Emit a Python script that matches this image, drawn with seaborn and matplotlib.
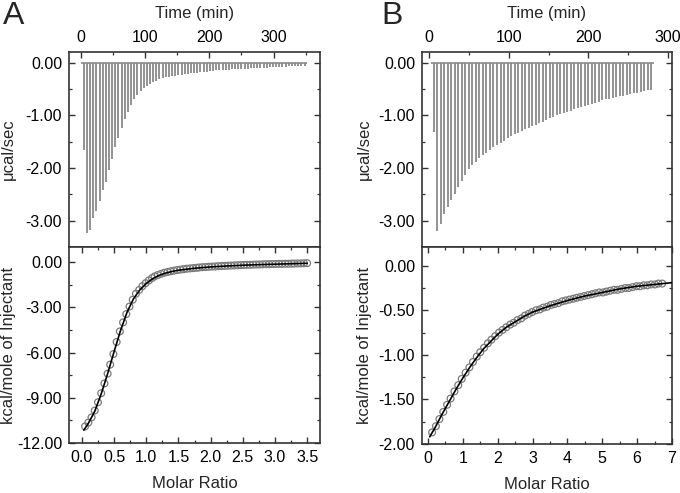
import matplotlib
matplotlib.use("Agg")
import numpy as np
import pandas as pd
import seaborn as sns
import matplotlib.pyplot as plt
from matplotlib.ticker import MultipleLocator, FormatStrFormatter

# ---- panel A: raw injections (time in min, peak in ucal/sec) ----
times_a = [5.0, 9.9, 14.8, 19.7, 24.6, 29.5, 34.4, 39.3, 44.2, 49.1,
           54.0, 58.9, 63.8, 68.7, 73.6, 78.5, 83.4, 88.3, 93.2, 98.1,
           103.0, 107.9, 112.8, 117.7, 122.6, 127.5, 132.4, 137.3, 142.2, 147.1,
           152.0, 156.9, 161.8, 166.7, 171.6, 176.5, 181.4, 186.3, 191.2, 196.1,
           201.0, 205.9, 210.8, 215.7, 220.6, 225.5, 230.4, 235.3, 240.2, 245.1,
           250.0, 254.9, 259.8, 264.7, 269.6, 274.5, 279.4, 284.3, 289.2, 294.1,
           299.0, 303.9, 308.8, 313.7, 318.6, 323.5, 328.4, 333.3, 338.2, 343.1,
           348.0]
peaks_a = [-1.66, -3.23, -3.17, -2.95, -2.81, -2.62, -2.42, -2.26, -2.04, -1.83,
           -1.60, -1.44, -1.24, -1.08, -0.94, -0.81, -0.70, -0.61, -0.54, -0.48,
           -0.44, -0.41, -0.37, -0.35, -0.32, -0.30, -0.28, -0.27, -0.26, -0.25,
           -0.24, -0.23, -0.22, -0.21, -0.20, -0.19, -0.19, -0.18, -0.17, -0.17,
           -0.16, -0.16, -0.15, -0.15, -0.14, -0.14, -0.14, -0.13, -0.13, -0.13,
           -0.12, -0.12, -0.12, -0.11, -0.11, -0.11, -0.10, -0.10, -0.10, -0.09,
           -0.09, -0.09, -0.08, -0.08, -0.08, -0.07, -0.07, -0.07, -0.06, -0.06,
           -0.06]

# ---- panel A: integrated heats (kcal/mole of injectant) ----
molar_a = [0.05, 0.10, 0.15, 0.20, 0.25, 0.30, 0.35, 0.40, 0.44, 0.49,
           0.54, 0.59, 0.64, 0.69, 0.74, 0.79, 0.84, 0.89, 0.94, 0.99,
           1.04, 1.09, 1.13, 1.18, 1.23, 1.28, 1.33, 1.38, 1.43, 1.48,
           1.53, 1.58, 1.63, 1.68, 1.73, 1.78, 1.82, 1.87, 1.92, 1.97,
           2.02, 2.07, 2.12, 2.17, 2.22, 2.27, 2.32, 2.37, 2.42, 2.47,
           2.52, 2.56, 2.61, 2.66, 2.71, 2.76, 2.81, 2.86, 2.91, 2.96,
           3.01, 3.06, 3.11, 3.16, 3.21, 3.26, 3.30, 3.35, 3.40, 3.45,
           3.50]
heat_a = [-10.90, -10.65, -10.30, -9.85, -9.30, -8.70, -8.05, -7.40, -6.80, -6.10,
          -5.30, -4.60, -4.00, -3.45, -2.95, -2.50, -2.10, -1.85, -1.60, -1.40,
          -1.22, -1.06, -0.95, -0.86, -0.78, -0.71, -0.66, -0.61, -0.57, -0.53,
          -0.50, -0.47, -0.44, -0.42, -0.40, -0.38, -0.36, -0.34, -0.33, -0.31,
          -0.30, -0.29, -0.27, -0.26, -0.25, -0.24, -0.23, -0.22, -0.21, -0.20,
          -0.19, -0.18, -0.18, -0.17, -0.16, -0.16, -0.15, -0.14, -0.14, -0.13,
          -0.13, -0.12, -0.12, -0.11, -0.11, -0.10, -0.10, -0.09, -0.09, -0.08,
          -0.07]
fit_a_x = [0.03, 0.10, 0.20, 0.30, 0.40, 0.50, 0.60, 0.70, 0.80, 0.90, 1.00, 1.10,
           1.20, 1.30, 1.40, 1.50, 1.75, 2.00, 2.25, 2.50, 2.75, 3.00, 3.25, 3.50]
fit_a_y = [-11.15, -10.70, -9.90, -8.75, -7.40, -5.95, -4.55, -3.35, -2.45, -1.85, -1.42, -1.10,
           -0.88, -0.73, -0.62, -0.54, -0.41, -0.32, -0.26, -0.21, -0.17, -0.14, -0.11, -0.08]

# ---- panel B: raw injections ----
times_b = [6.0, 10.4, 14.8, 19.2, 23.6, 28.0, 32.4, 36.8, 41.2, 45.6,
           50.0, 54.4, 58.8, 63.2, 67.6, 72.0, 76.4, 80.8, 85.2, 89.6,
           94.0, 98.4, 102.8, 107.2, 111.6, 116.0, 120.4, 124.8, 129.2, 133.6,
           138.0, 142.4, 146.8, 151.2, 155.6, 160.0, 164.4, 168.8, 173.2, 177.6,
           182.0, 186.4, 190.8, 195.2, 199.6, 204.0, 208.4, 212.8, 217.2, 221.6,
           226.0, 230.4, 234.8, 239.2, 243.6, 248.0, 252.4, 256.8, 261.2, 265.6,
           270.0, 274.4, 278.8]
peaks_b = [-1.31, -3.19, -3.06, -2.88, -2.74, -2.61, -2.49, -2.37, -2.25, -2.13,
           -2.02, -1.95, -1.88, -1.82, -1.76, -1.71, -1.66, -1.61, -1.56, -1.52,
           -1.48, -1.44, -1.40, -1.36, -1.33, -1.30, -1.27, -1.24, -1.21, -1.18,
           -1.15, -1.12, -1.09, -1.06, -1.03, -1.00, -0.98, -0.95, -0.93, -0.91,
           -0.88, -0.86, -0.84, -0.82, -0.80, -0.78, -0.76, -0.74, -0.72, -0.70,
           -0.69, -0.67, -0.66, -0.64, -0.63, -0.61, -0.60, -0.58, -0.57, -0.56,
           -0.54, -0.53, -0.52]

# ---- panel B: integrated heats ----
molar_b = [0.12, 0.23, 0.33, 0.44, 0.55, 0.65, 0.76, 0.87, 0.97, 1.08,
           1.19, 1.29, 1.40, 1.50, 1.61, 1.72, 1.82, 1.93, 2.04, 2.14,
           2.25, 2.36, 2.46, 2.57, 2.68, 2.78, 2.89, 2.99, 3.10, 3.21,
           3.31, 3.42, 3.53, 3.63, 3.74, 3.85, 3.95, 4.06, 4.17, 4.27,
           4.38, 4.48, 4.59, 4.70, 4.80, 4.91, 5.02, 5.12, 5.23, 5.34,
           5.44, 5.55, 5.66, 5.76, 5.87, 5.98, 6.08, 6.19, 6.29, 6.40,
           6.51, 6.61, 6.72]
heat_b = [-1.87, -1.80, -1.72, -1.64, -1.56, -1.49, -1.41, -1.34, -1.27, -1.20,
          -1.14, -1.08, -1.02, -0.97, -0.92, -0.87, -0.83, -0.79, -0.75, -0.72,
          -0.69, -0.66, -0.64, -0.61, -0.59, -0.56, -0.54, -0.52, -0.50, -0.49,
          -0.47, -0.46, -0.44, -0.43, -0.42, -0.40, -0.39, -0.38, -0.37, -0.36,
          -0.35, -0.34, -0.33, -0.32, -0.31, -0.30, -0.30, -0.29, -0.28, -0.27,
          -0.27, -0.26, -0.25, -0.25, -0.24, -0.23, -0.23, -0.22, -0.22, -0.21,
          -0.21, -0.20, -0.20]
fit_b_x = [0.05, 0.2, 0.4, 0.6, 0.8, 1.0, 1.2, 1.4, 1.6, 1.8, 2.0, 2.25,
           2.5, 2.75, 3.0, 3.5, 4.0, 4.5, 5.0, 5.5, 6.0, 6.5, 7.0]
fit_b_y = [-1.92, -1.82, -1.67, -1.53, -1.39, -1.26, -1.14, -1.03, -0.93, -0.85, -0.77, -0.69,
           -0.63, -0.57, -0.52, -0.45, -0.39, -0.34, -0.30, -0.26, -0.23, -0.21, -0.19]

sns.set_style("ticks")
plt.rcParams['font.family'] = ['Liberation Sans', 'DejaVu Sans']
plt.rcParams['axes.edgecolor'] = '#333333'
plt.rcParams['axes.linewidth'] = 1.2

fig = plt.figure(figsize=(6.8, 4.93), dpi=100)
W, H = 680.0, 493.0
tick_fs = 11.5
label_fs = 12


def make_axes(left, right, top, mid, bottom):
    ax_top = fig.add_axes([left / W, 1 - mid / H, (right - left) / W, (mid - top) / H])
    ax_bot = fig.add_axes([left / W, 1 - bottom / H, (right - left) / W, (bottom - mid) / H])
    return ax_top, ax_bot


def style_ticks(ax):
    ax.tick_params(which='both', direction='in', colors='#333333', labelcolor='black',
                   labelsize=tick_fs, left=True, right=True, pad=5)
    ax.tick_params(which='major', length=4, width=1.0)
    ax.tick_params(which='minor', length=2.5, width=0.9)


def raw_panel(ax, times, peaks, xlim):
    ax.hlines(0, times[0] - 4, times[-1] + 4, color='#8a8a8a', lw=1.2)
    ax.vlines(times, peaks, 0, color='#8a8a8a', lw=1.3)
    ax.set_xlim(*xlim)
    ax.set_ylim(-3.5, 0.2)
    ax.xaxis.tick_top()
    ax.xaxis.set_label_position('top')
    ax.xaxis.set_major_locator(MultipleLocator(100))
    ax.xaxis.set_minor_locator(MultipleLocator(50))
    ax.yaxis.set_major_locator(MultipleLocator(1))
    ax.yaxis.set_minor_locator(MultipleLocator(0.5))
    ax.yaxis.set_major_formatter(FormatStrFormatter('%.2f'))
    style_ticks(ax)
    ax.tick_params(which='both', top=True, bottom=False, labeltop=True, labelbottom=False)
    ax.set_xlabel('Time (min)', fontsize=label_fs)
    ax.xaxis.set_label_coords(0.5, 1.175)
    ax.set_ylabel('μcal/sec', fontsize=label_fs)


def heat_panel(ax, molar, heat, fx, fy, xlim, ylim, xmaj, xmin, ymaj, ymin):
    sns.lineplot(x=fx, y=fy, ax=ax, color='black', lw=1.2, zorder=3)
    sns.scatterplot(x=molar, y=heat, ax=ax, marker='o', s=24, facecolor='none',
                    edgecolor='#7a7a7a', linewidth=0.9, zorder=2)
    ax.set_xlim(*xlim)
    ax.set_ylim(*ylim)
    ax.xaxis.set_major_locator(MultipleLocator(xmaj))
    ax.xaxis.set_minor_locator(MultipleLocator(xmin))
    ax.yaxis.set_major_locator(MultipleLocator(ymaj))
    ax.yaxis.set_minor_locator(MultipleLocator(ymin))
    ax.yaxis.set_major_formatter(FormatStrFormatter('%.2f'))
    style_ticks(ax)
    ax.tick_params(which='both', top=True, bottom=True)
    ax.set_xlabel('Molar Ratio', fontsize=label_fs)
    ax.xaxis.set_label_coords(0.5, -0.17)
    ax.set_ylabel('kcal/mole of Injectant', fontsize=label_fs)


ax_a1, ax_a2 = make_axes(69, 320, 52, 247, 443)
ax_b1, ax_b2 = make_axes(422, 672, 52, 247, 444)

raw_panel(ax_a1, times_a, peaks_a, (-18, 372))
raw_panel(ax_b1, times_b, peaks_b, (-9, 305))
heat_panel(ax_a2, molar_a, heat_a, fit_a_x, fit_a_y, (-0.2, 3.7), (-12, 1.0), 0.5, 0.25, 3, 1.5)
heat_panel(ax_b2, molar_b, heat_b, fit_b_x, fit_b_y, (-0.17, 7.0), (-2.0, 0.21), 1, 0.5, 0.5, 0.25)

for ax in (ax_a1, ax_a2):
    ax.yaxis.set_label_coords(-0.21, 0.5)
for ax in (ax_b1, ax_b2):
    ax.yaxis.set_label_coords(-0.2, 0.5)

fig.text(3 / W, 1 - 1 / H, 'A', fontsize=23, va='top', ha='left')
fig.text(381 / W, 1 - 1 / H, 'B', fontsize=23, va='top', ha='left')

fig.savefig('out.png', dpi=100)
